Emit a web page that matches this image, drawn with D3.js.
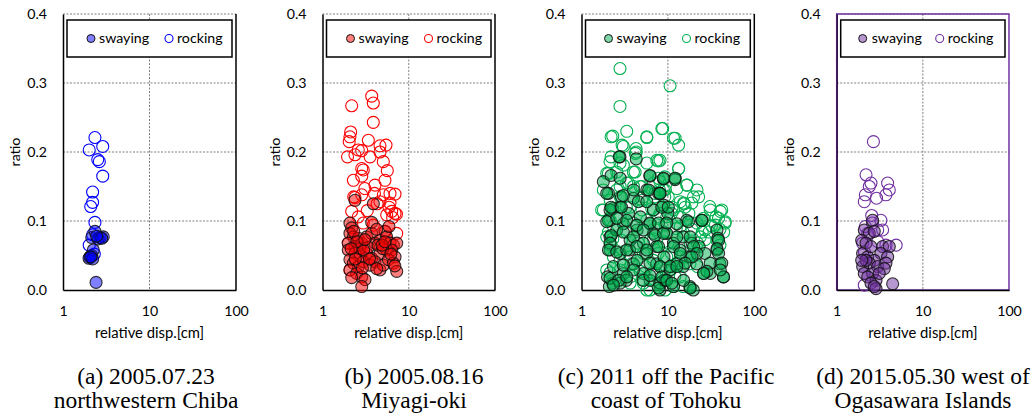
<!DOCTYPE html>
<html><head><meta charset="utf-8">
<script src="https://cdn.jsdelivr.net/npm/d3@7"></script>
<style>body{margin:0;background:#fff}svg{display:block}</style>
</head><body><svg id="chart" width="1036" height="419"></svg>
<script>
// ---------- data ----------
const yTicks = [0, 0.1, 0.2, 0.3, 0.4];
const xTicks = [1, 10, 100];
const seriesNames = ["swaying", "rocking"];
const xTitle = "relative disp.[cm]";
const yTitle = "ratio";
const captions = [
  ["(a) 2005.07.23", "northwestern Chiba"],
  ["(b) 2005.08.16", "Miyagi-oki"],
  ["(c) 2011 off the Pacific", "coast of Tohoku"],
  ["(d) 2015.05.30 west of", "Ogasawara Islands"]
];
const colors = ["#0000ff", "#ff0000", "#00b050", "#7030a0"];

// [relative disp (cm), ratio]
const swayingA = [[2.41,0.011],[2.05,0.048],[2.15,0.050],[2.24,0.058],[2.15,0.076],[2.34,0.085],[2.68,0.076],[2.92,0.077],[2.55,0.074],[2.0,0.046],[2.2,0.045],[2.1,0.048],[2.8,0.075],[2.45,0.078]];
const rockingA = [[2.34,0.221],[2.01,0.203],[2.88,0.208],[2.52,0.189],[2.63,0.186],[2.88,0.165],[2.20,0.142],[2.20,0.127],[2.09,0.121],[2.34,0.098],[2.01,0.065],[2.2,0.080],[2.3,0.052]];

const swayingB = [[2.08,0.097],[2.18,0.090],[2.08,0.082],[2.28,0.077],[2.60,0.075],[1.99,0.068],[2.38,0.063],[2.85,0.068],[3.25,0.077],[3.72,0.082],[4.06,0.068],[4.64,0.072],[5.31,0.085],[5.55,0.077],[6.07,0.068],[6.63,0.065],[7.25,0.068],[1.99,0.058],[2.38,0.053],[2.72,0.048],[3.25,0.053],[3.72,0.046],[4.64,0.053],[5.55,0.058],[6.35,0.058],[6.93,0.048],[2.08,0.044],[2.28,0.039],[2.60,0.034],[2.98,0.041],[3.56,0.036],[4.06,0.041],[4.64,0.029],[5.08,0.036],[5.81,0.044],[6.63,0.039],[7.25,0.027],[2.08,0.029],[2.49,0.024],[2.85,0.019],[3.11,0.015],[2.85,0.005],[4.25,0.031],[3.72,0.098],[2.38,0.130],[3.89,0.125],[2.18,0.018],[2.72,0.060],[3.40,0.062],[4.25,0.088],[4.4,0.065],[5.0,0.060],[5.9,0.092],[6.2,0.052],[3.0,0.058],[2.3,0.085],[2.5,0.070],[3.1,0.073],[3.5,0.045],[4.9,0.065],[2.9,0.032],[5.3,0.07],[6.9,0.035],[2.15,0.060],[2.4,0.045]];
const rockingB = [[3.72,0.281],[3.88,0.271],[2.18,0.267],[3.88,0.243],[2.12,0.229],[2.08,0.222],[2.04,0.215],[3.40,0.217],[4.64,0.209],[5.45,0.210],[2.60,0.203],[2.85,0.202],[2.38,0.196],[3.56,0.193],[1.95,0.193],[4.64,0.200],[5.07,0.186],[2.85,0.176],[2.97,0.174],[2.85,0.165],[5.64,0.173],[2.28,0.159],[5.30,0.159],[4.06,0.152],[6.06,0.140],[6.93,0.139],[5.07,0.138],[2.38,0.134],[2.85,0.138],[4.64,0.128],[6.06,0.126],[6.34,0.114],[5.55,0.109],[6.93,0.111],[2.18,0.114],[2.60,0.106],[2.97,0.097],[3.88,0.094],[7.25,0.082],[5.30,0.085],[1.99,0.068],[2.08,0.029],[4.3,0.125],[3.1,0.147],[2.3,0.135],[6.5,0.105],[7.2,0.110],[5.9,0.120],[3.3,0.115],[4.0,0.140]];

const swayingC = [[2.79,0.193],[4.3,0.190],[1.79,0.157],[6.2,0.165],[8.9,0.161],[12.1,0.160],[2.05,0.140],[2.9,0.135],[4.0,0.133],[5.7,0.145],[7.8,0.140],[2.3,0.118],[2.8,0.120],[3.5,0.111],[4.8,0.106],[6.8,0.116],[8.9,0.123],[10,0.111],[2.05,0.101],[3.05,0.096],[4.4,0.087],[6.2,0.096],[16.5,0.101],[24.5,0.101],[2.14,0.077],[2.14,0.058],[2.8,0.053],[3.6,0.058],[5.2,0.068],[7.4,0.063],[11.6,0.068],[15,0.077],[19,0.068],[23,0.063],[37,0.087],[38,0.075],[37,0.058],[40,0.038],[44,0.019],[31,0.024],[26,0.024],[21.5,0.038],[18,0.048],[15,0.034],[12.7,0.038],[10.6,0.029],[8.9,0.014],[8.1,0.0],[11.6,0.005],[18,0.005],[19.7,0.0],[6.2,0.014],[5.2,0.024],[4.0,0.038],[3.05,0.024],[3.3,0.014],[2.3,0.010],[2.0,0.019],[2.1,0.005],[2.8,0.010],[7.4,0.038],[5.7,0.053],[4.4,0.043],[9,0.048],[9.7,0.082],[12.7,0.096],[13.8,0.058],[6.8,0.082],[3.65,0.072],[2.55,0.087],[2.14,0.116],
  [2.73,0.193],[6.2,0.166],[2.2,0.166],[2.8,0.162],[1.96,0.140],[3.05,0.137],[4.0,0.145],[6.0,0.145],[8.1,0.140],[2.2,0.120],[2.9,0.120],[4.55,0.128],[5.7,0.128],[8.5,0.120],[1.96,0.099],[2.56,0.104],[3.34,0.101],[4.36,0.094],[6.2,0.097],[7.8,0.097],[2.2,0.079],[3.05,0.084],[4.0,0.077],[5.2,0.087],[7.1,0.079],[8.9,0.082],[2.14,0.068],[2.05,0.058],[2.56,0.055],[3.34,0.058],[4.36,0.063],[5.7,0.058],[7.8,0.063],[2.34,0.034],[3.05,0.036],[4.0,0.029],[6.2,0.039],[8.1,0.034],[2.14,0.017],[2.7,0.014],[3.34,0.019],[2.34,0.007],[5.2,0.014],[6.2,0.021],[8.1,0.010],[7.8,0.003],[9.3,0.014],
  [8.9,0.162],[12.1,0.162],[8.1,0.140],[10.1,0.120],[9.7,0.097],[17.3,0.099],[24.8,0.101],[38.6,0.072],[37,0.060],[38.6,0.053],[18.1,0.077],[12.7,0.077],[11.6,0.063],[19.8,0.063],[13.9,0.053],[26.8,0.053],[30.9,0.039],[42,0.039],[44,0.019],[40.4,0.029],[28.3,0.027],[25.9,0.024],[21.7,0.053],[19,0.048],[15.8,0.039],[10.6,0.034],[8.5,0.019],[9.7,0.014],[11.1,0.010],[18.1,0.003],[15.2,0.014],[12.7,0.034]];
const rockingC = [[2.79,0.321],[10.6,0.296],[2.79,0.266],[8.51,0.234],[3.34,0.230],[2.30,0.223],[5.70,0.222],[11.6,0.220],[13.3,0.210],[3.05,0.208],[4.28,0.205],[4.2,0.198],[2.20,0.193],[2.79,0.184],[5.70,0.184],[7.76,0.187],[4.17,0.171],[13.3,0.176],[1.96,0.169],[3.34,0.155],[16.6,0.152],[21.7,0.145],[12.7,0.147],[7.76,0.162],[9.2,0.164],[19.8,0.135],[30.6,0.121],[42,0.116],[15.4,0.125],[11.2,0.120],[1.71,0.116],[2.15,0.130],[5.0,0.130],[6.8,0.116],[46,0.099],[32,0.093],[25,0.084],[40,0.088],[25,0.101],[19,0.088],[15,0.084],[2.15,0.101],[2.05,0.084],[2.15,0.065],[2.3,0.074],[40,0.065],[3.3,0.084],[4.3,0.093],[6.8,0.074],[7.8,0.106],[9,0.084],[2.8,0.043],[3.8,0.038],[5.5,0.034],[5.7,0.0],[8,0.010],[12,0.020],[15,0.005],[5,0.015],[3.8,0.020],[2.15,0.025],[7.7,0.053],[11,0.053],[14,0.048],[18,0.038],[22,0.034],[5.5,0.053],[4.5,0.063],[10,0.068],[12.5,0.089],[22,0.068],[27,0.073],[6.6,0.025],[8.2,0.034],[11,0.034],[3.3,0.120],[2.8,0.150],[5,0.150],[7,0.135],[8,0.145],[11,0.111],[9.2,0.135],[14,0.106],[17.5,0.111],[30,0.084],[36,0.106],
  [2.2,0.222],[5.7,0.221],[2.95,0.210],[4.3,0.200],[2.14,0.186],[3.05,0.181],[7.44,0.188],[2.56,0.171],[3.99,0.171],[2.05,0.169],[3.5,0.155],[4.77,0.150],[1.79,0.145],[2.56,0.145],[4.0,0.150],[6.8,0.155],[8.1,0.157],[2.8,0.135],[5.2,0.135],[7.1,0.140],[9.3,0.145],[1.79,0.116],[3.65,0.120],[5.0,0.116],[6.5,0.118],[8.1,0.111],[2.8,0.106],[4.0,0.097],[2.34,0.092],[5.7,0.101],[7.4,0.087],[9.3,0.094],[1.96,0.077],[2.9,0.072],[4.55,0.068],[6.2,0.072],[8.9,0.070],[2.34,0.048],[3.65,0.048],[5.2,0.053],[6.8,0.043],[9.7,0.048],[1.96,0.029],[2.8,0.029],[4.77,0.027],[7.4,0.024],[5.2,0.010],[6.2,0.0],[3.65,0.010],[9.3,0.029],
  [8.7,0.234],[12.1,0.220],[8.1,0.188],[13.3,0.176],[12.1,0.162],[16.6,0.152],[22.7,0.135],[15.2,0.126],[13.9,0.128],[15.8,0.120],[18.9,0.126],[30.9,0.116],[40.4,0.114],[38.6,0.104],[46,0.097],[25.9,0.104],[35.4,0.094],[26.8,0.087],[44.2,0.084],[21.7,0.097],[13.9,0.092],[9.7,0.106],[11.6,0.116],[10.1,0.135],[8.9,0.145],[37,0.072],[23.7,0.077],[18.1,0.068],[16.6,0.048],[12.7,0.039],[10.6,0.029],[13.9,0.019],[18.1,0.003],[11.6,0.005],[9.3,0.0]];

const swayingD = [[2.61,0.101],[2.09,0.087],[2.39,0.082],[2.73,0.085],[1.95,0.072],[2.19,0.068],[3.41,0.063],[4.08,0.063],[3.26,0.053],[3.9,0.048],[2.0,0.053],[2.29,0.048],[2.73,0.043],[2.39,0.039],[2.0,0.034],[2.99,0.034],[3.73,0.039],[3.57,0.031],[2.09,0.024],[2.61,0.024],[2.29,0.019],[2.86,0.014],[2.5,0.010],[2.86,0.002],[2.73,0.005],[4.46,0.009],[2.19,0.043],[3.12,0.024],[2.5,0.063],[1.95,0.043]];
const rockingD = [[2.67,0.215],[2.19,0.167],[2.5,0.155],[2.39,0.150],[3.9,0.155],[4.08,0.145],[3.73,0.138],[2.15,0.138],[2.09,0.128],[2.9,0.133],[2.55,0.108],[3.26,0.101],[2.15,0.092],[2.99,0.087],[2.29,0.082],[3.41,0.087],[3.73,0.065],[4.9,0.065],[2.0,0.068],[2.09,0.007],[2.6,0.097],[2.1,0.055],[3.0,0.070]];

// ---------- layout ----------
const panels = [
  {left: 63,    right: 236,   capX: 146, sway: swayingA, rock: rockingA, legOff: [24, 32, 102, 110]},
  {left: 322.5, right: 495,   capX: 414, sway: swayingB, rock: rockingB, legOff: [24, 32, 102, 110]},
  {left: 581.5, right: 754.3, capX: 666, sway: swayingC, rock: rockingC, legOff: [23, 31, 101, 109]},
  {left: 836.7, right: 1009,  capX: 923, sway: swayingD, rock: rockingD, legOff: [22, 31, 99, 107]}
];
const plotTop = 14, plotBottom = 290;
const sansFont = "Lato, 'Open Sans', sans-serif";
const fs = 14.2;
const svg = d3.select("#chart");

panels.forEach((p, i) => {
  const color = colors[i];
  const x = d3.scaleLog().domain([1, 100]).range([p.left, p.right]);
  const y = d3.scaleLinear().domain([0, 0.4]).range([plotBottom, plotTop]);
  const g = svg.append("g");

  // gridlines
  g.append("g").selectAll("line").data(yTicks.filter(d => d > 0)).join("line")
    .attr("x1", p.left).attr("x2", p.right).attr("y1", d => y(d)).attr("y2", d => y(d))
    .attr("stroke", "#7f7f7f").attr("stroke-width", 1).attr("stroke-dasharray", "2,1.5");
  g.append("g").selectAll("line").data(xTicks.filter(d => d > 1 && d < 100)).join("line")
    .attr("x1", d => x(d)).attr("x2", d => x(d)).attr("y1", plotTop).attr("y2", plotBottom)
    .attr("stroke", "#7f7f7f").attr("stroke-width", 1).attr("stroke-dasharray", "2,1.5");

  // plot-area border
  if (i === 3) {
    g.append("rect").attr("x", p.left).attr("y", plotTop).attr("width", p.right - p.left).attr("height", plotBottom - plotTop)
      .attr("fill", "none").attr("stroke", color).attr("stroke-width", 1.5);
  } else {
    g.append("line").attr("x1", p.right).attr("x2", p.right).attr("y1", plotTop).attr("y2", plotBottom)
      .attr("stroke", "#000").attr("stroke-width", 1.5);
  }

  // axes
  const ya = g.append("g").attr("transform", `translate(${p.left},0)`)
    .call(d3.axisLeft(y).tickValues(yTicks).tickFormat(d3.format(".1f")).tickSize(0).tickPadding(16));
  const xa = g.append("g").attr("transform", `translate(0,${plotBottom})`)
    .call(d3.axisBottom(x).tickValues(xTicks).tickFormat(d3.format("d")).tickSize(0).tickPadding(15.5));
  [ya, xa].forEach(a => {
    a.select(".domain").attr("stroke", i === 3 ? "#2b1040" : "#000").attr("stroke-width", 1.5);
    a.selectAll("text").attr("font-family", sansFont).attr("font-size", fs).attr("fill", "#000");
  });
  xa.select(".domain").attr("stroke", "#000");

  // axis titles
  g.append("text").attr("x", (p.left + p.right) / 2).attr("y", 337.5)
    .attr("text-anchor", "middle").attr("font-family", sansFont).attr("font-size", 14.8).text(xTitle);
  g.append("text").attr("transform", `translate(${p.left - 43},${(plotTop + plotBottom) / 2}) rotate(-90)`)
    .attr("text-anchor", "middle").attr("font-family", sansFont).attr("font-size", 14.2).text(yTitle);

  // points: rocking (open) then swaying (filled)
  g.append("g").selectAll("circle").data(p.rock).join("circle")
    .attr("cx", d => x(d[0])).attr("cy", d => y(d[1])).attr("r", 6)
    .attr("fill", "none").attr("stroke", color).attr("stroke-width", 1.1);
  g.append("g").selectAll("circle").data(p.sway).join("circle")
    .attr("cx", d => x(d[0])).attr("cy", d => y(d[1])).attr("r", 6)
    .attr("fill", color).attr("fill-opacity", 0.5)
    .attr("stroke", "#111").attr("stroke-opacity", 0.85).attr("stroke-width", 1.1);

  // legend
  const lx = p.left + 4, lw = (p.right - 4) - lx;
  const leg = g.append("g");
  leg.append("rect").attr("x", lx).attr("y", 20).attr("width", lw).attr("height", 37)
    .attr("fill", "#fff").attr("stroke", "#000").attr("stroke-width", 1.5);
  const ly = 38.5;
  leg.append("circle").attr("cx", lx + p.legOff[0]).attr("cy", ly).attr("r", 4)
    .attr("fill", color).attr("fill-opacity", 0.5).attr("stroke", "#111").attr("stroke-width", 1);
  leg.append("text").attr("x", lx + p.legOff[1]).attr("y", ly).attr("dy", "0.35em")
    .attr("font-family", sansFont).attr("font-size", fs).text(seriesNames[0]);
  leg.append("circle").attr("cx", lx + p.legOff[2]).attr("cy", ly).attr("r", 4)
    .attr("fill", "none").attr("stroke", color).attr("stroke-width", 1.1);
  leg.append("text").attr("x", lx + p.legOff[3]).attr("y", ly).attr("dy", "0.35em")
    .attr("font-family", sansFont).attr("font-size", fs).text(seriesNames[1]);

  // caption
  captions[i].forEach((line, k) => {
    g.append("text").attr("x", p.capX).attr("y", 384 + k * 24).attr("text-anchor", "middle")
      .attr("font-family", "'Liberation Serif', 'Times New Roman', serif").attr("font-size", 23.5)
      .attr("fill", "#000").text(line);
  });
});
</script>
</body></html>
